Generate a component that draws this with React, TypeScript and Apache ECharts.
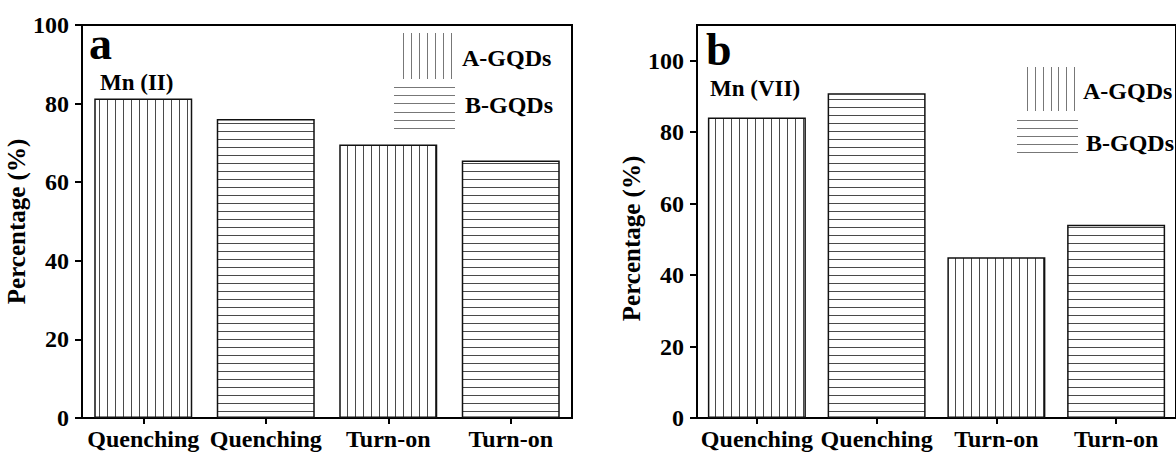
import React, { useEffect, useRef } from "react";
import * as echarts from "echarts";

const categories = ["Quenching", "Quenching", "Turn-on", "Turn-on"];
const seriesNames = ["A-GQDs", "B-GQDs"];
const panelAValuesA = [81.3, "-", 69.6, "-"];
const panelAValuesB = ["-", 76.1, "-", 65.5];
const panelBValuesA = [84.1, "-", 45.0, "-"];
const panelBValuesB = ["-", 90.9, "-", 54.1];
const yTicks = [0, 20, 40, 60, 80, 100];
const panelLabels = ["a", "b"];
const ionLabels = ["Mn (II)", "Mn (VII)"];
const yAxisTitle = "Percentage (%)";

const FONT = "'Liberation Serif', 'Times New Roman', serif";

function makePattern(vertical: boolean) {
  const c = document.createElement("canvas");
  c.width = 8;
  c.height = 8;
  const ctx = c.getContext("2d")!;
  ctx.fillStyle = "#ffffff";
  ctx.fillRect(0, 0, 8, 8);
  ctx.fillStyle = "#4a4a4a";
  if (vertical) ctx.fillRect(3, 0, 1, 8);
  else ctx.fillRect(0, 3, 8, 1);
  return {
    image: c.toDataURL(),
    imageWidth: 8,
    imageHeight: 8,
    repeat: "repeat",
  };
}

function legendLines(
  vx0: number, vx1: number, vy0: number, vy1: number, vCount: number,
  hx0: number, hx1: number, hy0: number, hy1: number, hCount: number
) {
  const els: any[] = [];
  const ls = { stroke: "#777", lineWidth: 1 };
  for (let i = 0; i < vCount; i++) {
    const x = Math.round(vx0 + ((vx1 - vx0) * i) / (vCount - 1)) + 0.5;
    els.push({ type: "line", shape: { x1: x, y1: vy0, x2: x, y2: vy1 }, style: ls, silent: true });
  }
  for (let i = 0; i < hCount; i++) {
    const y = Math.round(hy0 + ((hy1 - hy0) * i) / (hCount - 1)) + 0.5;
    els.push({ type: "line", shape: { x1: hx0, y1: y, x2: hx1, y2: y }, style: ls, silent: true });
  }
  return els;
}

function txt(text: string, x: number, y: number, size: number) {
  return {
    type: "text",
    x,
    y,
    silent: true,
    style: {
      text,
      fill: "#000",
      font: `bold ${size}px ${FONT}`,
      align: "left",
      verticalAlign: "middle",
    },
  };
}

export default function App() {
  const ref = useRef<HTMLDivElement>(null);
  useEffect(() => {
    if (!ref.current) return;
    const chart = echarts.init(ref.current, undefined, { renderer: "svg" });
    const patV = makePattern(true);
    const patH = makePattern(false);
    const labelStyle = { fontFamily: FONT, fontWeight: "bold" as const, color: "#000" };

    const xAxes = [0, 1].map((i) => ({
      type: "category",
      gridIndex: i,
      data: categories,
      axisLine: { show: true, lineStyle: { color: "#000", width: 2 } },
      axisTick: { show: true, alignWithLabel: true, length: 6, lineStyle: { color: "#000", width: 2 } },
      axisLabel: { ...labelStyle, fontSize: 24, margin: 9, interval: 0 },
      splitLine: { show: false },
    }));

    const yAxes = [0, 1].map((i) => ({
      type: "value",
      gridIndex: i,
      min: 0,
      max: i === 0 ? 100 : 110,
      interval: 20,
      name: yAxisTitle,
      nameLocation: "middle",
      nameGap: 49,
      nameTextStyle: {
        ...labelStyle,
        fontSize: 25,
        padding: i === 0 ? [0, 0, 0, 0] : [0, 34, 0, 0],
      },
      axisLine: { show: true, lineStyle: { color: "#000", width: 2 } },
      axisTick: { show: true, length: 7, customValues: yTicks, lineStyle: { color: "#000", width: 2 } },
      axisLabel: { ...labelStyle, fontSize: 24, margin: 13, customValues: yTicks },
      splitLine: { show: false },
    }));

    const barStyle = (pat: any) => ({ color: pat, borderColor: "#111", borderWidth: 1.5 });

    const series = [
      { name: seriesNames[0], data: panelAValuesA, xAxisIndex: 0, yAxisIndex: 0, pat: patV },
      { name: seriesNames[1], data: panelAValuesB, xAxisIndex: 0, yAxisIndex: 0, pat: patH },
      { name: seriesNames[0], data: panelBValuesA, xAxisIndex: 1, yAxisIndex: 1, pat: patV },
      { name: seriesNames[1], data: panelBValuesB, xAxisIndex: 1, yAxisIndex: 1, pat: patH },
    ].map((s) => ({
      type: "bar",
      name: s.name,
      data: s.data,
      xAxisIndex: s.xAxisIndex,
      yAxisIndex: s.yAxisIndex,
      barWidth: 98,
      barGap: "-100%",
      itemStyle: barStyle(s.pat),
      emphasis: { disabled: true },
    }));

    const graphic: any[] = [
      ...legendLines(403, 451, 33, 79, 7, 394, 455, 87, 128, 6),
      txt(seriesNames[0], 462, 58, 24),
      txt(seriesNames[1], 465, 105, 24),
      ...legendLines(1027, 1074, 67, 111, 7, 1017, 1078, 120, 152, 5),
      txt(seriesNames[0], 1083, 91, 24),
      txt(seriesNames[1], 1086, 143, 24),
      txt(panelLabels[0], 89, 43, 46),
      txt(panelLabels[1], 706, 49, 46),
      txt(ionLabels[0], 100, 82, 23),
      txt(ionLabels[1], 710, 88, 23),
    ];

    chart.setOption({
      animation: false,
      backgroundColor: "#fff",
      grid: [
        { left: 82, top: 25, width: 490, height: 393, show: true, borderColor: "#000", borderWidth: 2, backgroundColor: "transparent" },
        { left: 697, top: 25, width: 488, height: 393, show: true, borderColor: "#000", borderWidth: 2, backgroundColor: "transparent" },
      ],
      xAxis: xAxes,
      yAxis: yAxes,
      series,
      graphic,
    });
    return () => chart.dispose();
  }, []);
  return (
    <div
      ref={ref}
      style={{ position: "fixed", left: 0, top: 0, width: 1176, height: 455, background: "#fff", overflow: "hidden" }}
    />
  );
}
